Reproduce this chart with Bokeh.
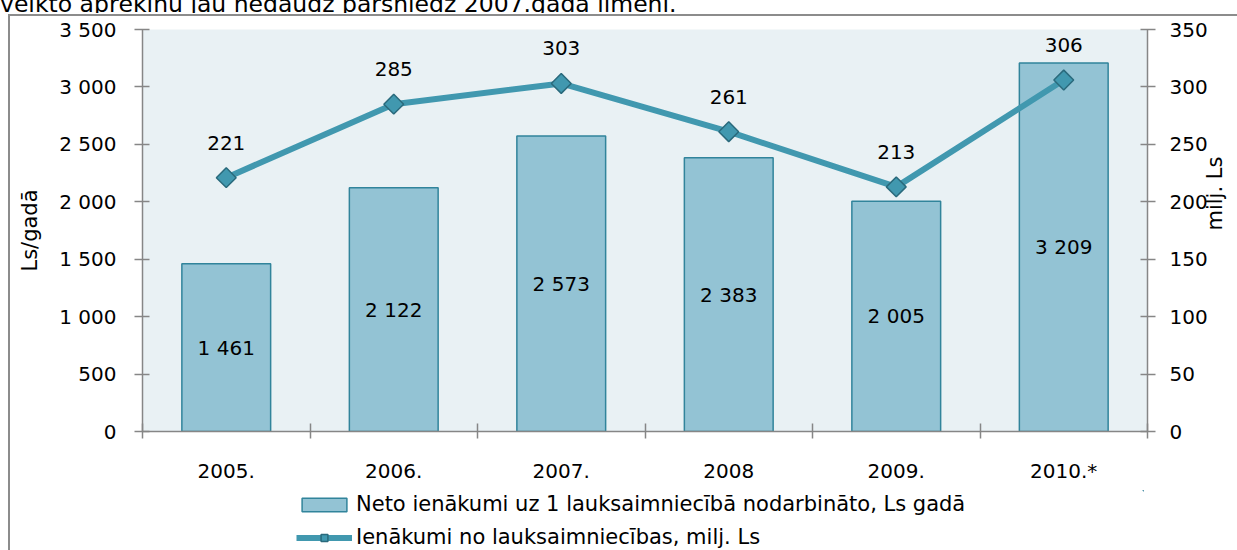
import math
from bokeh.plotting import figure
from bokeh.layouts import column
from bokeh.models import (Range1d, LinearAxis, FixedTicker, Legend, LegendItem, Div)
from bokeh.embed import file_html
from bokeh.resources import INLINE
from bokeh.core.properties import value

# ---------------- data ----------------
years = ["2005.", "2006.", "2007.", "2008", "2009.", "2010.*"]
income_per_worker = [1461, 2122, 2573, 2383, 2005, 3209]   # Ls/gadā (left axis)
income_total = [221, 285, 303, 261, 213, 306]               # milj. Ls (right axis)
left_ticks = [0, 500, 1000, 1500, 2000, 2500, 3000, 3500]
left_tick_labels = ["0", "500", "1 000", "1 500", "2 000", "2 500", "3 000", "3 500"]
right_ticks = [0, 50, 100, 150, 200, 250, 300, 350]
bar_series_name = "Neto ienākumi uz 1 lauksaimniecībā nodarbināto, Ls gadā"
line_series_name = "Ienākumi no lauksaimniecības, milj. Ls"
left_axis_title = "Ls/gadā"
right_axis_title = "milj. Ls"
text_above = "veikto aprēķinu jau nedaudz pārsniedz 2007.gada līmeni."

# ---------------- style ----------------
FONT = "DejaVu Sans"
AXIS_GREY = "#868686"
BAR_FILL = "#93C3D4"
BAR_LINE = "#31849B"
LINE_COL = "#4198AF"
MARK_LINE = "#2A6A7C"
BG = "#E9F1F4"
BORDER = "#8C8C8C"

n = len(years)
centers = [i + 0.5 for i in range(n)]
bounds = [i for i in range(n + 1)]

def fmt(v):
    return f"{v:,}".replace(",", " ")

# ---------------- cropped paragraph text above the chart ----------------
top_text = Div(text=(f'<div style="font-family:\'{FONT}\'; font-size:23.5px; line-height:23px; '
                     f'margin-top:-10px; white-space:nowrap; color:black">{text_above}</div>'),
               width=1237, height=13, margin=0, styles={"overflow": "hidden"})

# ---------------- main chart ----------------
chart_bg = {
    "background-color": "white",
    "background-image": f"linear-gradient({BORDER},{BORDER}), linear-gradient({BORDER},{BORDER})",
    "background-position": "8px 1px, 8px 1px",
    "background-size": "2px 100%, 100% 2px",
    "background-repeat": "no-repeat",
}

p = figure(frame_width=1005, frame_height=402, x_range=Range1d(0, n), y_range=Range1d(0, left_ticks[-1]),
           toolbar_location=None, output_backend="svg",
           min_border_left=142, min_border_right=90, min_border_top=16, min_border_bottom=59,
           background_fill_color=BG, border_fill_alpha=0, outline_line_color=None,
           styles=chart_bg, margin=0)
p.xgrid.grid_line_color = None
p.ygrid.grid_line_color = None

# x axis: labels at centers, ticks at category boundaries
xa = p.xaxis[0]
xa.ticker = FixedTicker(ticks=centers, minor_ticks=bounds)
xa.major_label_overrides = {c: y for c, y in zip(centers, years)}
xa.major_tick_line_color = None
xa.minor_tick_line_color = AXIS_GREY
xa.minor_tick_line_width = 1.5
xa.minor_tick_in = 8
xa.minor_tick_out = 7
xa.axis_line_color = AXIS_GREY
xa.axis_line_width = 1.5
xa.major_label_standoff = 20
xa.major_label_text_font = FONT
xa.major_label_text_font_size = "20px"
xa.major_label_text_color = "black"

# left axis
ya = p.yaxis[0]
ya.ticker = FixedTicker(ticks=left_ticks)
ya.major_label_overrides = {t: l for t, l in zip(left_ticks, left_tick_labels)}
ya.minor_tick_line_color = None
ya.major_tick_in = 7
ya.major_tick_out = 8
ya.major_tick_line_color = AXIS_GREY
ya.major_tick_line_width = 1.5
ya.axis_line_color = AXIS_GREY
ya.axis_line_width = 1.5
ya.major_label_standoff = 18
ya.major_label_text_font = FONT
ya.major_label_text_font_size = "20px"
ya.major_label_text_color = "black"
ya.axis_label = left_axis_title
ya.axis_label_standoff = 14
ya.axis_label_text_font = FONT
ya.axis_label_text_font_size = "21px"
ya.axis_label_text_font_style = "normal"
ya.axis_label_text_color = "black"

# right axis
p.extra_y_ranges = {"r": Range1d(0, right_ticks[-1])}
ra = LinearAxis(y_range_name="r", ticker=FixedTicker(ticks=right_ticks))
ra.minor_tick_line_color = None
ra.major_tick_in = 7
ra.major_tick_out = 8
ra.major_tick_line_color = AXIS_GREY
ra.major_tick_line_width = 1.5
ra.axis_line_color = AXIS_GREY
ra.axis_line_width = 1.5
ra.major_label_standoff = 14
ra.major_label_text_font = FONT
ra.major_label_text_font_size = "20px"
ra.major_label_text_color = "black"
ra.axis_label = right_axis_title
ra.axis_label_orientation = math.pi / 2
ra.axis_label_standoff = 4
ra.axis_label_text_font = FONT
ra.axis_label_text_font_size = "21px"
ra.axis_label_text_font_style = "normal"
ra.axis_label_text_color = "black"
p.add_layout(ra, "right")

bar_style = dict(fill_color=BAR_FILL, line_color=BAR_LINE, line_width=1.5)
line_style = dict(line_width=6, line_color=LINE_COL)
mark_style = dict(marker="square", angle=math.pi / 4, size=14, fill_color=LINE_COL,
                  line_color=MARK_LINE, line_width=1.5)

# bars
p.vbar(x=centers, top=income_per_worker, width=0.53, **bar_style)
p.text(x=centers, y=[v / 2 for v in income_per_worker], text=[fmt(v) for v in income_per_worker],
       text_align="center", text_baseline="middle", text_font=value(FONT),
       text_font_size=value("20px"), text_color="black")

# line
p.line(x=centers, y=income_total, y_range_name="r", **line_style)
p.scatter(x=centers, y=income_total, y_range_name="r", **mark_style)
p.text(x=centers, y=income_total, y_range_name="r", text=[str(v) for v in income_total],
       y_offset=-35, text_align="center", text_baseline="middle", text_font=value(FONT),
       text_font_size=value("20px"), text_color="black")

# ---------------- legend strip below the chart ----------------
# The same two series are plotted here on ranges that lie away from them, so only
# their legend entries are seen (a legend drawn under the axis would otherwise be clipped).
legend_bg = {
    "background-color": "white",
    "background-image": f"linear-gradient({BORDER},{BORDER})",
    "background-position": "8px 0px",
    "background-size": "2px 100%",
    "background-repeat": "no-repeat",
}
q = figure(width=1237, height=60, x_range=Range1d(-100, -99), y_range=Range1d(-2, -1),
           toolbar_location=None, output_backend="svg", x_axis_location=None, y_axis_location=None,
           min_border=0, background_fill_alpha=0, border_fill_alpha=0, outline_line_color=None,
           styles=legend_bg, margin=0)
q.xgrid.grid_line_color = None
q.ygrid.grid_line_color = None
lb = q.vbar(x=centers, top=income_per_worker, width=0.53, **bar_style)
ll = q.line(x=centers, y=income_total, **line_style)
lm = q.scatter(x=centers, y=income_total, **mark_style)
legend = Legend(items=[LegendItem(label=bar_series_name, renderers=[lb]),
                       LegendItem(label=line_series_name, renderers=[ll, lm])],
                location=(154, 1), orientation="vertical", padding=0, margin=0, spacing=9,
                glyph_width=56, glyph_height=17, label_standoff=4,
                label_text_font=FONT, label_text_font_size="21px", label_text_color="black",
                border_line_color=None, background_fill_alpha=0)
q.add_layout(legend)

layout = column(top_text, p, q, spacing=0, margin=0)
open("out.html", "w").write(file_html(layout, INLINE))
